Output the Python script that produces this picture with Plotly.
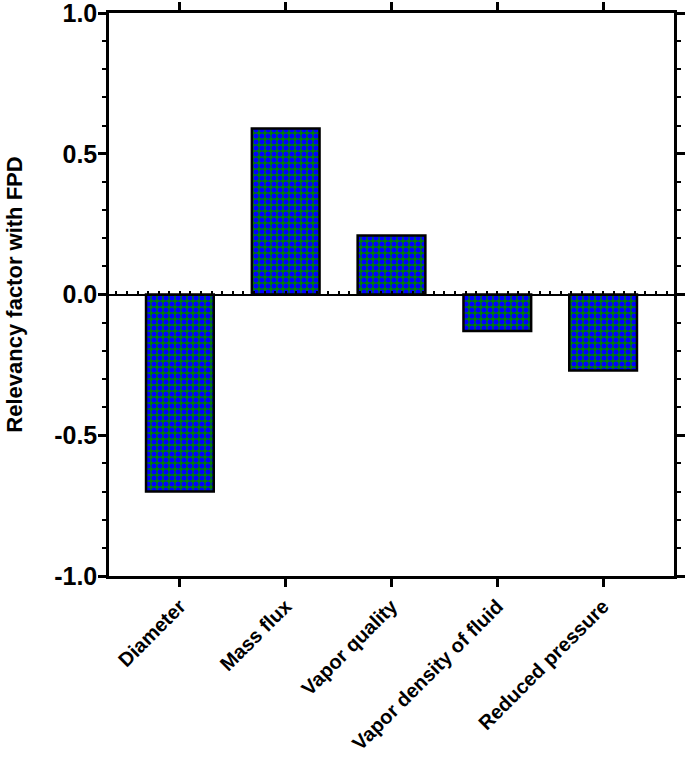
import plotly.graph_objects as go

categories = ["Diameter", "Mass flux", "Vapor quality", "Vapor density of fluid", "Reduced pressure"]
relevancy = [-0.70, 0.59, 0.21, -0.13, -0.27]
y_ticks = [-1.0, -0.5, 0.0, 0.5, 1.0]
y_tick_labels = ["-1.0", "-0.5", "0.0", "0.5", "1.0"]

FONT = "Liberation Sans, Arial, sans-serif"
xr = [-0.67, len(categories) - 1 + 0.67]

fig = go.Figure()
fig.add_trace(go.Bar(
    x=list(range(len(categories))),
    y=relevancy,
    width=0.64,
    marker=dict(
        color="#008000",
        line=dict(color="black", width=2.5),
        pattern=dict(shape=".", fgcolor="#0000FF", bgcolor="#008000",
                     size=6, solidity=0.55, fillmode="replace"),
    ),
    showlegend=False,
))
# invisible trace on overlay axis to render the zero line with minor ticks
fig.add_trace(go.Scatter(x=xr, y=[0, 0], xaxis="x2", mode="lines",
                         line=dict(color="rgba(0,0,0,0)"), showlegend=False,
                         hoverinfo="skip"))

fig.update_layout(
    width=685, height=764,
    margin=dict(l=109, r=11, t=13, b=188),
    plot_bgcolor="white", paper_bgcolor="white",
    font=dict(family=FONT, color="black"),
    xaxis=dict(
        range=xr, tickmode="array",
        tickvals=list(range(len(categories))), ticktext=categories,
        tickangle=-45, ticks="outside", ticklen=8, tickwidth=2.5, tickcolor="black",
        showline=True, linewidth=2.5, linecolor="black", mirror="ticks",
        showgrid=False, zeroline=False, automargin=False, ticklabeloverflow="allow",
        tickfont=dict(family=FONT, size=20, color="black", weight="bold"),
    ),
    xaxis2=dict(
        range=xr, overlaying="x", anchor="free", position=0.5, side="top",
        showline=True, linewidth=2, linecolor="black",
        tickmode="linear", tick0=0, dtick=0.1, ticks="outside", ticklen=3,
        tickwidth=1.5, tickcolor="black", showticklabels=False,
        showgrid=False, zeroline=False, automargin=False,
    ),
    yaxis=dict(
        range=[-1, 1], tickmode="array", tickvals=y_ticks, ticktext=y_tick_labels,
        ticks="outside", ticklen=8, tickwidth=2.5, tickcolor="black",
        minor=dict(dtick=0.1, ticks="outside", ticklen=4, tickwidth=2, tickcolor="black"),
        showline=True, linewidth=2.5, linecolor="black", mirror="ticks",
        showgrid=False, zeroline=False, automargin=False, ticklabeloverflow="allow",
        ticklabelstandoff=-4,
        tickfont=dict(family=FONT, size=25, color="black", weight="bold"),
        title=dict(text="Relevancy factor with FPD", standoff=26,
                   font=dict(family=FONT, size=22, color="black", weight="bold")),
    ),
)

fig.write_html("out.html", config={"displayModeBar": False},
               post_script="document.body.style.margin='0px';")
